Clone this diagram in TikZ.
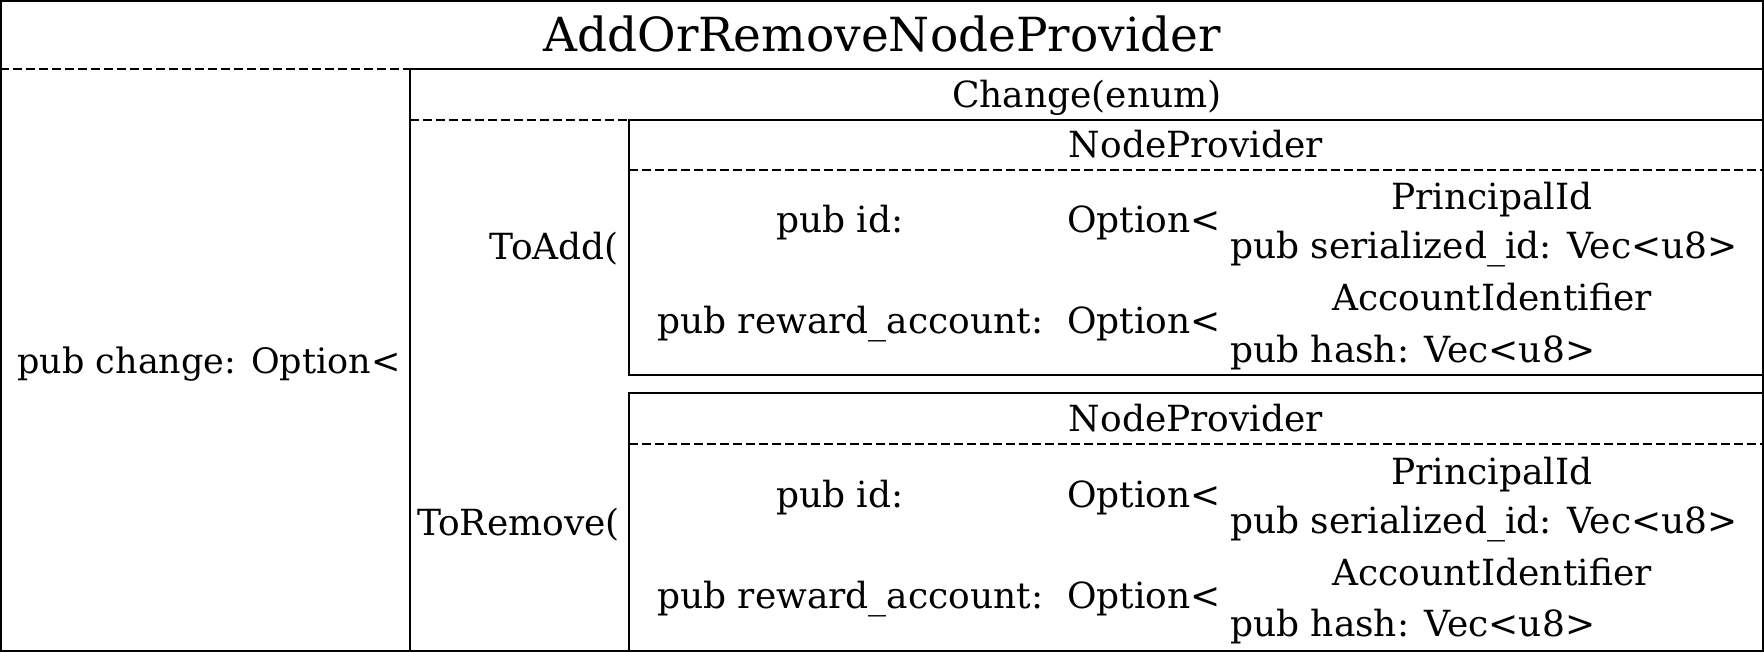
\documentclass[tikz,border=0pt]{standalone}
\usepackage{fontspec}
\setmainfont{DejaVu Serif}
\begin{document}
\begin{tikzpicture}[x=1pt,y=-1pt,
  rule/.style={line width=1.8pt},
  dashrule/.style={line width=1.5pt, dash pattern=on 9pt off 4pt},
  lbl/.style={inner sep=0pt, font=\fontsize{36}{43}\selectfont},
  ttl/.style={inner sep=0pt, font=\fontsize{47}{56}\selectfont}]
\useasboundingbox (0,0) rectangle (1764,652);
% frames
\draw[rule] (0.9,0.9) rectangle (1763.1,651.1);
\draw[dashrule] (0,69) -- (410,69);
\draw[rule] (410,69) -- (1764,69);
\draw[rule] (410,69) -- (410,652);
\draw[dashrule] (410,120) -- (629,120);
\draw[rule] (629,120) rectangle (1763.1,375);
\draw[dashrule] (629,170) -- (1764,170);
\draw[rule] (629,393) rectangle (1763.1,651.1);
\draw[dashrule] (629,444) -- (1764,444);
% texts
\node[ttl, anchor=base] (title) at (882,52) {AddOrRemoveNodeProvider};
\node[lbl, font=\fontsize{35}{42}\selectfont, anchor=base] (chg) at (209,373) {pub change: Option<};
\node[lbl, anchor=base] (enum) at (1087,108) {Change(enum)};
\node[lbl, anchor=base east] (toadd) at (619,260) {ToAdd(};
\node[lbl, anchor=base east] (torem) at (620,535) {ToRemove(};
% box 1
\node[lbl, anchor=base] (np1) at (1196,158) {NodeProvider};
\node[lbl, anchor=base] (id1) at (840,233) {pub id:};
\node[lbl, anchor=base west] (opa1) at (1067,233) {Option<};
\node[lbl, anchor=base] (pid1) at (1492,210) {PrincipalId};
\node[lbl, anchor=base west] (ser1) at (1230,259) {pub serialized\_id: Vec<u8>};
\node[lbl, anchor=base west] (rew1) at (657,334) {pub reward\_account:};
\node[lbl, anchor=base west] (opb1) at (1067,334) {Option<};
\node[lbl, anchor=base] (acc1) at (1492,311) {AccountIdentifier};
\node[lbl, anchor=base west] (hash1) at (1230,362) {pub hash: Vec<u8>};
% box 2
\node[lbl, anchor=base] (np2) at (1196,431) {NodeProvider};
\node[lbl, anchor=base] (id2) at (840,507) {pub id:};
\node[lbl, anchor=base west] (opa2) at (1067,507) {Option<};
\node[lbl, anchor=base] (pid2) at (1492,484) {PrincipalId};
\node[lbl, anchor=base west] (ser2) at (1230,533) {pub serialized\_id: Vec<u8>};
\node[lbl, anchor=base west] (rew2) at (657,608) {pub reward\_account:};
\node[lbl, anchor=base west] (opb2) at (1067,608) {Option<};
\node[lbl, anchor=base] (acc2) at (1492,585) {AccountIdentifier};
\node[lbl, anchor=base west] (hash2) at (1230,636) {pub hash: Vec<u8>};
\end{tikzpicture}
\end{document}
